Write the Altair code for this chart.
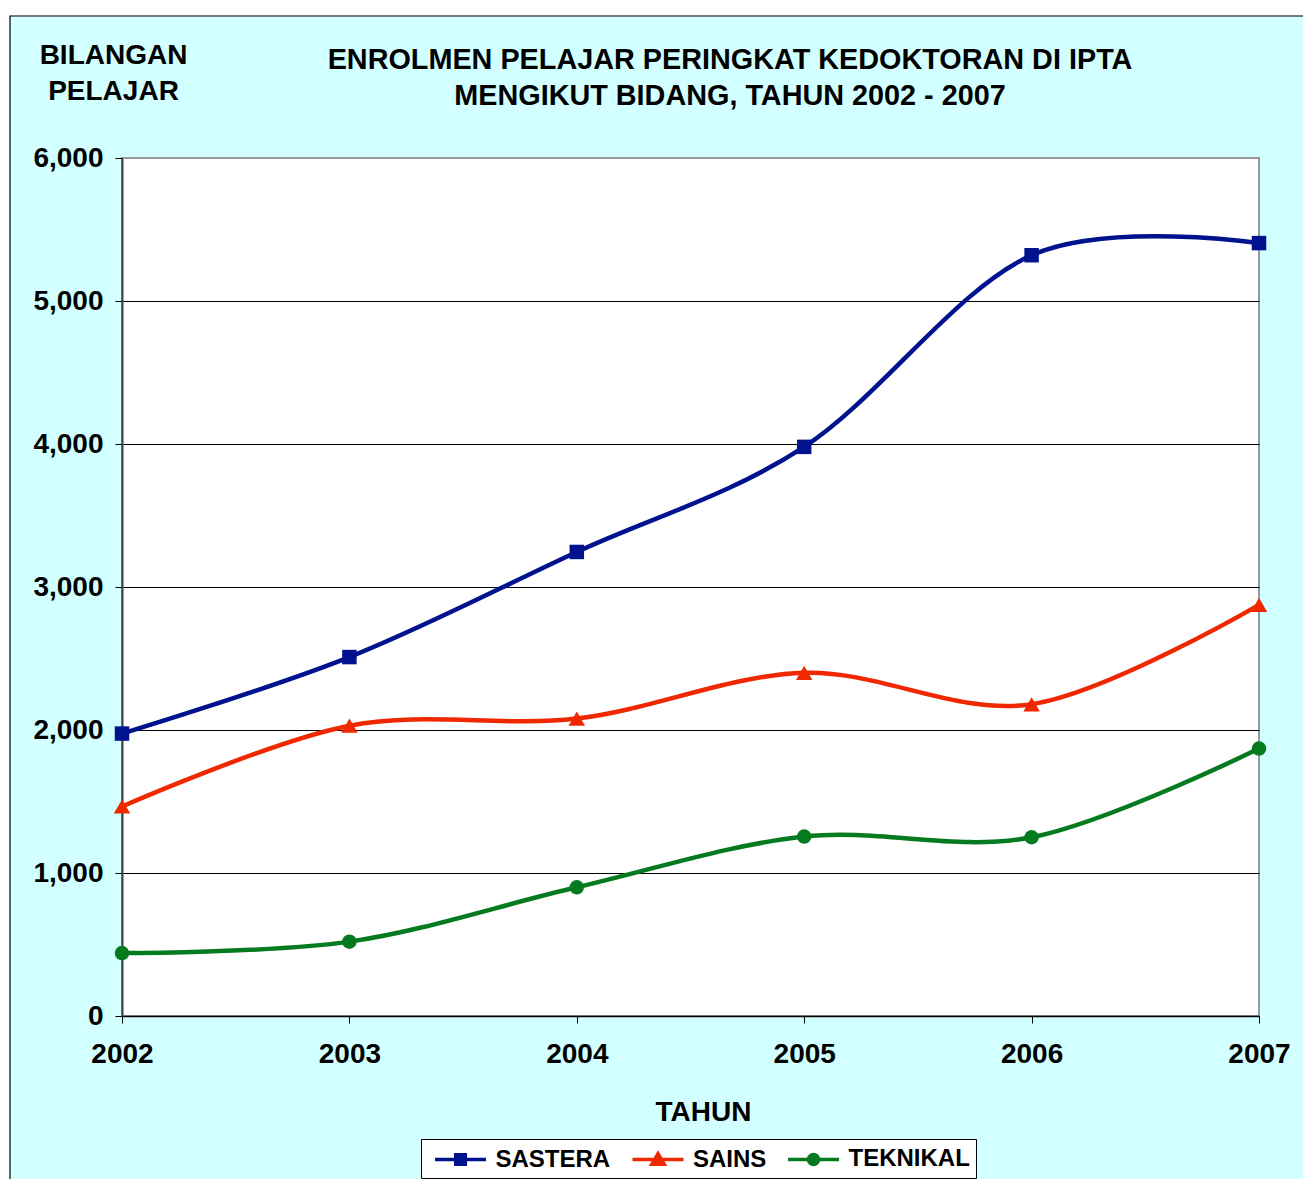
import altair as alt
import pandas as pd

years = [2002, 2003, 2004, 2005, 2006, 2007]
series_names = ["SASTERA", "SAINS", "TEKNIKAL"]
sastera = [1975, 2510, 3245, 3980, 5320, 5405]
sains = [1465, 2030, 2080, 2400, 2180, 2875]
teknikal = [440, 520, 900, 1255, 1250, 1870]
y_ticks = [0, 1000, 2000, 3000, 4000, 5000, 6000]
colors = ["#00128E", "#F02800", "#067A1E"]
plot_shapes = ["square", "triangle-up", "circle"]
plot_sizes = [210, 270, 210]
legend_paths = [
    "M-2.125,0H2.125M-0.4,-0.4H0.4V0.4H-0.4Z",
    "M-2.125,0H2.125M0,-0.48L0.52,0.4L-0.52,0.4Z",
    "M-2.125,0H2.125M0.42,0A0.42,0.42 0 1,1 -0.42,0A0.42,0.42 0 1,1 0.42,0Z",
]
title_text = "ENROLMEN PELAJAR PERINGKAT KEDOKTORAN DI IPTA\nMENGIKUT BIDANG, TAHUN 2002 - 2007"

rows = []
for name, vals in zip(series_names, [sastera, sains, teknikal]):
    for yr, v in zip(years, vals):
        rows.append({"year": yr, "value": v, "series": name})
df = pd.DataFrame(rows)

FONT = "Liberation Sans"
W, H = 1137, 858

x_enc = alt.X("year:Q", scale=alt.Scale(domain=[2002, 2007], nice=False, zero=False),
              axis=alt.Axis(values=years, format="d", title="TAHUN", grid=False,
                            titleX=581, titleY=104, titleAlign="center",
                            titleBaseline="alphabetic", labelPadding=17, labelFlush=False))
y_enc = alt.Y("value:Q", scale=alt.Scale(domain=[0, 6000], nice=False),
              axis=alt.Axis(values=y_ticks, format=",d", title=["BILANGAN", "PELAJAR"],
                            titleAngle=0, titleX=-9, titleY=-95, titleAlign="center",
                            titleBaseline="alphabetic", titleLineHeight=36,
                            labelPadding=12, labelFlush=False, grid=True,
                            gridColor=alt.condition("datum.value == 6000", alt.value("#999999"), alt.value("#000000")),
                            domainColor="#404040", domainWidth=2))

base = alt.Chart(df)
one = pd.DataFrame({"k": [0]})

# decorative outer frame
frame = alt.Chart(one).mark_rect(
    fill="transparent", stroke="#000000", strokeWidth=1.2
).encode(x=alt.value(-112), x2=alt.value(W + 100), y=alt.value(-142), y2=alt.value(H + 300))
strip_top = alt.Chart(one).mark_rect(fill="white").encode(
    x=alt.value(-120), x2=alt.value(W + 100), y=alt.value(-160), y2=alt.value(-142.6))
strip_left = alt.Chart(one).mark_rect(fill="white").encode(
    x=alt.value(-120), x2=alt.value(-112.6), y=alt.value(-160), y2=alt.value(H + 300))

title_mark = alt.Chart(one).mark_text(
    text=title_text, lineBreak="\n", lineHeight=36, font=FONT, fontSize=28.8, fontWeight="bold",
    color="#000000", align="center", baseline="alphabetic"
).encode(x=alt.value(608), y=alt.value(-89))

line_layers = []
point_layers = []
for i, (name, shp, sz, col) in enumerate(zip(series_names, plot_shapes, plot_sizes, colors)):
    sub = base.transform_filter(alt.datum.series == name)
    if i == 0:
        line_layers.append(sub.mark_line(interpolate="cardinal", tension=0, strokeWidth=4.5, color=col)
                           .encode(x=x_enc, y=y_enc))
    else:
        line_layers.append(sub.mark_line(interpolate="cardinal", tension=0, strokeWidth=4.5, color=col)
                           .encode(x="year:Q", y="value:Q"))
    point_layers.append(
        sub.mark_point(filled=True, shape=shp, size=sz, opacity=1, strokeWidth=0, color=col)
        .encode(x="year:Q", y="value:Q")
    )

leg = alt.Legend(title=None, orient="none", legendX=299, legendY=981, direction="horizontal",
                 symbolSize=576, symbolStrokeWidth=3.5, symbolOffset=19.5, symbolOpacity=1,
                 labelFont=FONT, labelFontSize=24,
                 labelFontWeight="bold", labelColor="#000000", labelOffset=21,
                 columnPadding=13.5, padding=6, fillColor="white", strokeColor="#000000",
                 labelLimit=400)
legend_layer = base.mark_point(filled=True, strokeWidth=3.5, size=0, opacity=1).encode(
    x="year:Q", y="value:Q",
    fill=alt.Fill("series:N", scale=alt.Scale(domain=series_names, range=colors), legend=leg),
    stroke=alt.Stroke("series:N", scale=alt.Scale(domain=series_names, range=colors), legend=leg),
    shape=alt.Shape("series:N", scale=alt.Scale(domain=series_names, range=legend_paths), legend=leg),
)

chart = alt.layer(strip_top, strip_left, frame, title_mark, *line_layers, *point_layers, legend_layer).properties(
    width=W, height=H,
    background="#D2FFFF",
    padding={"left": 114, "top": 150, "right": 44, "bottom": 163},
    autosize=alt.AutoSizeParams(type="none"),
).configure_view(
    fill="white", stroke="#999999", strokeWidth=2
).configure_axis(
    labelFont=FONT, labelFontSize=28, labelFontWeight="bold", labelColor="#000000",
    titleFont=FONT, titleFontSize=28, titleFontWeight="bold", titleColor="#000000",
    tickColor="#000000", tickSize=7, tickWidth=1, domainColor="#000000", domainWidth=1.5,
    gridWidth=1,
)

chart.save("out.html", embed_options={"renderer": "svg", "actions": False})
